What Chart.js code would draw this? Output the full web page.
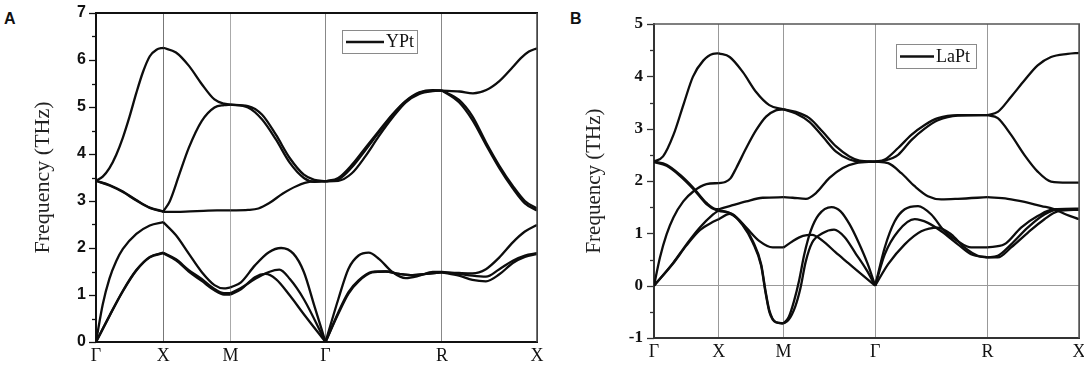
<!DOCTYPE html>
<html>
<head>
<meta charset="utf-8">
<script src="https://cdn.jsdelivr.net/npm/chart.js@4.4.1/dist/chart.umd.min.js"></script>
<style>
  html, body { margin: 0; padding: 0; background: #fff; }
  body { position: relative; width: 1084px; height: 369px; overflow: hidden; }
  .panel { position: absolute; top: 0; }
  #panelA { left: 0; }
  #panelB { left: 544px; }
  .tag { position: absolute; top: 10px; font: bold 16px "Liberation Sans", Arial, sans-serif; color: #111; }
</style>
</head>
<body>
<div class="tag" style="left:4px">A</div>
<div class="tag" style="left:570px">B</div>
<canvas id="panelA" class="panel" width="544" height="369"></canvas>
<canvas id="panelB" class="panel" width="540" height="369"></canvas>

<script>
// ─── high-symmetry path (k distance) and labels ───
const kPath = [0, 0.5, 1.0, 1.707, 2.573, 3.28];
const kLabels = ['Γ', 'X', 'M', 'Γ', 'R', 'X'];

// ─── YPt phonon branches, [k, THz] ───
const yptRange = [0, 7];
const ypt6 = [[0,3.43],[0.05,3.52],[0.1,3.7],[0.15,3.98],[0.2,4.35],[0.25,4.8],[0.3,5.3],[0.35,5.75],[0.4,6.08],[0.45,6.22],[0.5,6.26],
  [0.595,6.16],[0.69,5.88],[0.786,5.49],[0.881,5.16],[0.952,5.07],[1.0,5.05],
  [1.13,5.02],[1.234,4.84],[1.338,4.41],[1.442,3.91],[1.546,3.56],[1.624,3.45],[1.707,3.42],
  [1.802,3.49],[1.903,3.77],[2.003,4.13],[2.104,4.49],[2.204,4.84],[2.304,5.13],[2.405,5.31],[2.505,5.36],[2.573,5.35],
  [2.704,5.33],[2.804,5.29],[2.903,5.36],[3.0,5.55],[3.1,5.85],[3.16,6.04],[3.22,6.18],[3.28,6.25]];
const ypt5 = [[0,3.43],[0.1,3.34],[0.2,3.2],[0.3,3.02],[0.4,2.86],[0.5,2.78],
  [0.548,2.99],[0.619,3.56],[0.69,4.13],[0.786,4.7],[0.881,4.99],[0.952,5.04],[1.0,5.05],
  [1.13,4.99],[1.234,4.74],[1.338,4.31],[1.442,3.81],[1.546,3.49],[1.624,3.41],[1.707,3.42],
  [1.802,3.46],[1.903,3.72],[2.003,4.08],[2.104,4.46],[2.204,4.82],[2.304,5.12],[2.405,5.3],[2.505,5.35],[2.573,5.35],
  [2.7,5.15],[2.8,4.8],[2.9,4.25],[3.0,3.75],[3.1,3.32],[3.19,3.0],[3.28,2.84]];
const ypt4 = [[0,3.43],[0.1,3.33],[0.2,3.19],[0.3,3.01],[0.4,2.85],[0.5,2.77],
  [0.6,2.77],[0.7,2.78],[0.8,2.79],[0.9,2.8],[1.0,2.8],
  [1.13,2.81],[1.208,2.84],[1.286,2.95],[1.39,3.16],[1.494,3.32],[1.598,3.41],[1.707,3.42],
  [1.802,3.43],[1.903,3.59],[2.003,3.95],[2.104,4.38],[2.204,4.77],[2.304,5.1],[2.405,5.28],[2.505,5.34],[2.573,5.35],
  [2.7,5.1],[2.8,4.72],[2.9,4.2],[3.0,3.7],[3.1,3.27],[3.19,2.95],[3.28,2.8]];
const ypt3 = [[0,0],[0.05,0.8],[0.1,1.35],[0.15,1.72],[0.2,1.98],[0.3,2.3],[0.4,2.48],[0.5,2.55],
  [0.595,2.27],[0.69,1.88],[0.786,1.49],[0.881,1.21],[0.952,1.14],[1.0,1.16],
  [1.078,1.27],[1.182,1.63],[1.286,1.91],[1.377,2.0],[1.468,1.88],[1.546,1.49],[1.624,0.77],[1.707,0],
  [1.802,0.91],[1.878,1.56],[1.953,1.84],[2.028,1.9],[2.104,1.77],[2.204,1.49],[2.304,1.36],[2.405,1.41],[2.505,1.49],[2.573,1.49],
  [2.7,1.47],[2.8,1.46],[2.9,1.55],[3.0,1.8],[3.1,2.12],[3.19,2.35],[3.28,2.49]];
const ypt2 = [[0,0],[0.1,0.56],[0.2,1.09],[0.3,1.53],[0.4,1.81],[0.5,1.9],
  [0.595,1.76],[0.69,1.53],[0.786,1.34],[0.881,1.13],[0.952,1.04],[1.0,1.04],
  [1.078,1.15],[1.182,1.34],[1.286,1.49],[1.364,1.54],[1.442,1.34],[1.546,0.91],[1.707,0],
  [1.802,0.63],[1.878,1.06],[1.953,1.31],[2.053,1.49],[2.154,1.5],[2.254,1.45],[2.355,1.42],[2.455,1.45],[2.573,1.48],
  [2.7,1.45],[2.8,1.41],[2.9,1.39],[3.0,1.55],[3.1,1.73],[3.19,1.84],[3.28,1.89]];
const ypt1 = [[0,0],[0.1,0.55],[0.2,1.08],[0.3,1.52],[0.4,1.8],[0.5,1.89],
  [0.595,1.74],[0.69,1.5],[0.786,1.3],[0.881,1.1],[0.952,1.01],[1.0,1.01],
  [1.078,1.12],[1.182,1.38],[1.26,1.45],[1.338,1.34],[1.442,0.99],[1.546,0.59],[1.707,0],
  [1.802,0.6],[1.878,1.03],[1.953,1.29],[2.053,1.48],[2.154,1.5],[2.254,1.45],[2.355,1.42],[2.455,1.45],[2.573,1.48],
  [2.7,1.41],[2.8,1.32],[2.9,1.29],[3.0,1.44],[3.1,1.68],[3.19,1.81],[3.28,1.87]];

// ─── LaPt phonon branches, [k, THz] ───
const laptRange = [-1, 5];
const lapt6 = [[0,2.37],[0.07,2.47],[0.15,2.88],[0.23,3.48],[0.3,3.99],[0.38,4.3],[0.455,4.43],[0.5,4.44],
  [0.584,4.37],[0.686,4.08],[0.788,3.7],[0.89,3.45],[1.0,3.37],
  [1.095,3.32],[1.199,3.2],[1.302,2.94],[1.405,2.66],[1.508,2.47],[1.586,2.39],[1.707,2.37],
  [1.781,2.41],[1.884,2.63],[1.986,2.88],[2.089,3.07],[2.191,3.2],[2.345,3.26],[2.573,3.26],
  [2.653,3.32],[2.756,3.61],[2.858,3.92],[2.961,4.21],[3.064,4.37],[3.193,4.43],[3.28,4.45]];
const lapt5 = [[0,0],[0.046,0.54],[0.097,0.98],[0.149,1.3],[0.226,1.61],[0.303,1.8],[0.405,1.94],[0.5,1.96],
  [0.55,1.98],[0.59,2.05],[0.635,2.25],[0.712,2.63],[0.788,2.97],[0.865,3.23],[0.94,3.35],[1.0,3.37],
  [1.095,3.29],[1.199,3.13],[1.302,2.85],[1.405,2.56],[1.508,2.41],[1.6,2.37],[1.707,2.37],
  [1.781,2.39],[1.884,2.5],[1.986,2.78],[2.089,3.0],[2.191,3.16],[2.345,3.25],[2.573,3.26],
  [2.653,3.2],[2.756,2.88],[2.858,2.5],[2.961,2.18],[3.064,1.99],[3.193,1.97],[3.28,1.97]];
const lapt4 = [[0,2.37],[0.097,2.31],[0.2,2.12],[0.303,1.87],[0.405,1.58],[0.482,1.46],[0.5,1.46],
  [0.584,1.52],[0.712,1.61],[0.839,1.68],[1.0,1.69],
  [1.07,1.68],[1.173,1.66],[1.25,1.77],[1.354,2.06],[1.457,2.25],[1.56,2.34],[1.707,2.37],
  [1.807,2.34],[1.909,2.15],[2.012,1.9],[2.114,1.71],[2.217,1.65],[2.345,1.66],[2.573,1.69],
  [2.73,1.66],[2.86,1.6],[2.99,1.52],[3.08,1.47],[3.18,1.36],[3.28,1.27]];
const lapt3 = [[0,2.36],[0.097,2.29],[0.2,2.1],[0.303,1.85],[0.405,1.56],[0.482,1.44],[0.5,1.43],
  [0.61,1.36],[0.712,1.11],[0.814,0.85],[0.916,0.73],[1.0,0.73],
  [1.07,0.85],[1.15,0.95],[1.22,0.97],[1.3,0.86],[1.4,0.64],[1.5,0.43],[1.6,0.22],[1.707,0],
  [1.781,0.73],[1.858,1.23],[1.935,1.46],[2.038,1.52],[2.14,1.36],[2.242,1.04],[2.345,0.85],[2.447,0.73],[2.573,0.73],
  [2.704,0.79],[2.833,1.11],[2.961,1.33],[3.09,1.46],[3.28,1.46]];
const lapt2 = [[0,0],[0.149,0.44],[0.251,0.79],[0.354,1.11],[0.456,1.36],[0.5,1.44],
  [0.584,1.39],[0.686,1.17],[0.763,0.85],[0.827,0.41],[0.86,-0.09],[0.89,-0.47],[0.941,-0.7],[1.0,-0.72],
  [1.04,-0.65],[1.09,-0.4],[1.13,-0.05],[1.17,0.45],[1.22,0.82],[1.3,1.0],[1.39,1.07],[1.47,0.93],[1.56,0.6],[1.64,0.3],[1.707,0],
  [1.781,0.6],[1.884,1.04],[2.012,1.27],[2.114,1.2],[2.217,1.04],[2.345,0.79],[2.447,0.6],[2.573,0.54],
  [2.653,0.57],[2.756,0.79],[2.884,1.11],[3.013,1.36],[3.115,1.46],[3.28,1.47]];
const lapt1 = [[0,0],[0.149,0.43],[0.251,0.77],[0.354,1.06],[0.456,1.22],[0.5,1.27],
  [0.584,1.37],[0.686,1.15],[0.763,0.82],[0.827,0.38],[0.86,-0.12],[0.89,-0.5],[0.941,-0.7],[1.0,-0.72],
  [1.04,-0.6],[1.08,-0.3],[1.12,0.1],[1.16,0.6],[1.21,1.05],[1.27,1.35],[1.37,1.5],[1.44,1.42],[1.51,1.17],[1.58,0.82],[1.65,0.41],[1.707,0],
  [1.807,0.41],[1.935,0.79],[2.063,1.04],[2.191,1.11],[2.294,0.98],[2.396,0.73],[2.499,0.57],[2.573,0.54],
  [2.653,0.54],[2.756,0.73],[2.884,1.01],[3.013,1.27],[3.115,1.42],[3.28,1.45]];

// split a branch at the symmetry points so every kink stays sharp
function toSegments(curve) {
  const segs = [];
  for (let i = 0; i < kPath.length - 1; i++) {
    const a = kPath[i] - 1e-6, b = kPath[i + 1] + 1e-6;
    segs.push(curve.filter(p => p[0] >= a && p[0] <= b).map(p => ({ x: p[0], y: p[1] })));
  }
  return segs;
}

// ticks (major + minor), top/right edges and the in-plot legend box
const framePlugin = {
  id: 'frame',
  afterDraw(chart, args, o) {
    const { ctx, chartArea: a, scales: { y } } = chart;
    ctx.save();
    ctx.strokeStyle = o.axisColor;
    ctx.lineWidth = 1.3;
    for (let v = y.min; v <= y.max + 1e-9; v += 0.5) {
      const py = Math.round(y.getPixelForValue(v)) + 0.5;
      const len = Math.abs(v - Math.round(v)) < 1e-6 ? 7 : 4;
      ctx.beginPath(); ctx.moveTo(a.left - len, py); ctx.lineTo(a.left, py); ctx.stroke();
    }
    ctx.lineWidth = o.topWidth; ctx.strokeStyle = o.topColor;
    ctx.beginPath(); ctx.moveTo(a.left - 1, a.top); ctx.lineTo(a.right + 1, a.top); ctx.stroke();
    ctx.lineWidth = 1.5; ctx.strokeStyle = o.rightColor;
    ctx.beginPath(); ctx.moveTo(a.right, a.top); ctx.lineTo(a.right, a.bottom); ctx.stroke();

    const L = o.legend;
    const bx = a.left + L.dx, by = a.top + L.dy;
    ctx.fillStyle = '#fff';
    ctx.fillRect(bx, by, L.w, L.h);
    ctx.strokeStyle = '#8a8a8a'; ctx.lineWidth = 1;
    ctx.strokeRect(bx + 0.5, by + 0.5, L.w, L.h);
    ctx.strokeStyle = '#111'; ctx.lineWidth = 2.4;
    ctx.beginPath(); ctx.moveTo(bx + 4, by + L.h / 2 + 0.5); ctx.lineTo(bx + 4 + L.line, by + L.h / 2 + 0.5); ctx.stroke();
    ctx.fillStyle = '#111';
    ctx.font = '18px "Liberation Serif", "Times New Roman", serif';
    ctx.textBaseline = 'middle';
    ctx.fillText(L.text, bx + 6 + L.line, by + L.h / 2 + 1);
    ctx.restore();
  }
};

function buildPanel(id, curves, range, cfg) {
  const datasets = [];
  curves.forEach(c => toSegments(c).forEach(seg => datasets.push({
    data: seg, borderColor: '#0d0d0d', borderWidth: 2.3, pointRadius: 0,
    cubicInterpolationMode: 'monotone', fill: false
  })));

  return new Chart(document.getElementById(id), {
    type: 'line',
    data: { datasets },
    plugins: [framePlugin],
    options: {
      responsive: false, animation: false, events: [],
      layout: { padding: { left: 0, top: cfg.top, right: cfg.right, bottom: 0 } },
      plugins: {
        legend: { display: false }, tooltip: { enabled: false },
        frame: { axisColor: cfg.axisColor, topColor: cfg.topColor, topWidth: cfg.topWidth, rightColor: cfg.rightColor, legend: cfg.legend }
      },
      scales: {
        x: {
          type: 'linear', min: kPath[0], max: kPath[kPath.length - 1],
          afterBuildTicks: s => { s.ticks = kPath.map(v => ({ value: v })); },
          afterFit: s => { s.height = cfg.xHeight; s.paddingLeft = 0; s.paddingRight = 0; },
          ticks: { callback: (v, i) => kLabels[i], autoSkip: false, maxRotation: 0, padding: 3, color: '#111',
                   font: { family: '"Liberation Serif", "Times New Roman", serif', size: 18 } },
          grid: { color: c => cfg.gridColors[c.index] || '#999', lineWidth: 1, drawTicks: false },
          border: { color: cfg.axisColor, width: 2 }
        },
        y: {
          min: range[0], max: range[1],
          afterFit: s => { s.width = cfg.yWidth; s.paddingTop = 0; s.paddingBottom = 0; },
          ticks: { stepSize: 1, padding: cfg.tickPad, color: '#111', font: cfg.yFont },
          grid: { drawTicks: false, lineWidth: 1, color: c => (cfg.zeroLine && c.tick && c.tick.value === 0) ? '#999' : 'rgba(0,0,0,0)' },
          border: { color: cfg.axisColor, width: 2 },
          title: { display: true, text: 'Frequency (THz)', color: '#222',
                   font: { family: '"Liberation Serif", "Times New Roman", serif', size: cfg.titleSize, lineHeight: 1.2 },
                   padding: { top: cfg.titlePad, bottom: 0 } }
        }
      }
    }
  });
}

buildPanel('panelA', [ypt1, ypt2, ypt3, ypt4, ypt5, ypt6], yptRange, {
  top: 13, right: 7, yWidth: 96, xHeight: 27, tickPad: 10, titleSize: 22, titlePad: 30,
  yFont: { family: '"Liberation Sans", Arial, sans-serif', size: 16, weight: 'bold' },
  axisColor: '#111', topColor: '#111', topWidth: 2, rightColor: '#444', zeroLine: false,
  gridColors: ['#999', '#777', '#aaa', '#888', '#888', '#444'],
  legend: { dx: 246, dy: 17, w: 75, h: 23, line: 38, text: 'YPt' }
});

buildPanel('panelB', [lapt1, lapt2, lapt3, lapt4, lapt5, lapt6], laptRange, {
  top: 24, right: 5, yWidth: 110, xHeight: 31, tickPad: 11, titleSize: 21, titlePad: 38,
  yFont: { family: '"Liberation Serif", "Times New Roman", serif', size: 17, weight: 'bold' },
  axisColor: '#333', topColor: '#555', topWidth: 1.5, rightColor: '#555', zeroLine: true,
  gridColors: ['#999', '#999', '#999', '#999', '#999', '#555'],
  legend: { dx: 242, dy: 20, w: 80, h: 24, line: 34, text: 'LaPt' }
});
</script>
</body>
</html>
